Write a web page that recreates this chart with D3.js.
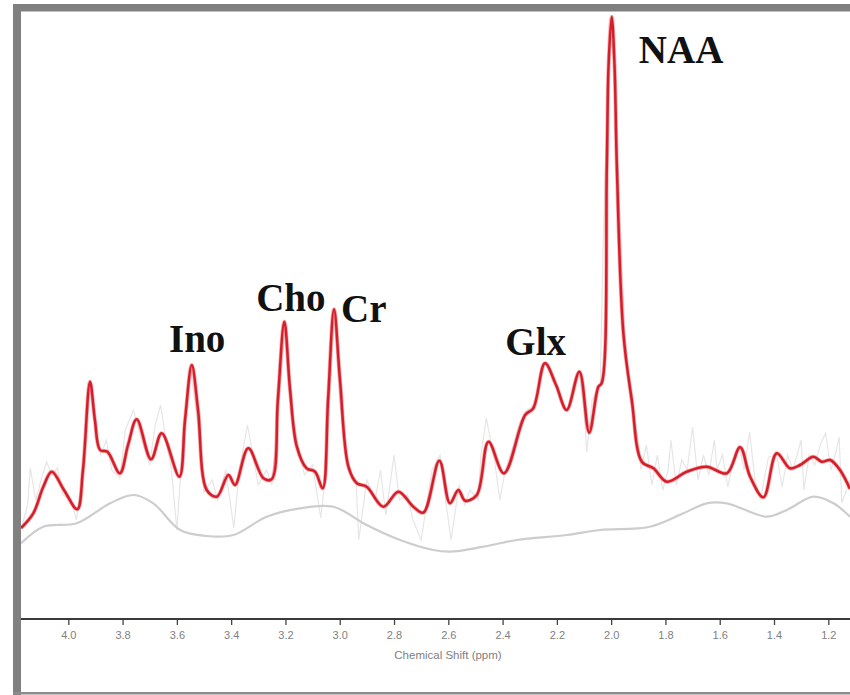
<!DOCTYPE html>
<html>
<head>
<meta charset="utf-8">
<script src="https://cdn.jsdelivr.net/npm/d3@7"></script>
<style>
body { margin: 0; background: #fff; }
svg { display: block; }
</style>
</head>
<body>
<div id="spectre"></div>
<script>
var width = 850,
height = 695,
axeY = 619,
gauche = 21,
droite = 850;

// ticks of the ppm axis
var ticksPpm = [4.0, 3.8, 3.6, 3.4, 3.2, 3.0, 2.8, 2.6, 2.4, 2.2, 2.0, 1.8, 1.6, 1.4, 1.2];

// fitted spectrum (red): ppm / intensity (a.u.)
var fitPpm = [4.174, 4.129, 4.092, 4.061, 4.016, 3.967, 3.946, 3.920, 3.902, 3.883, 3.856, 3.810, 3.780, 3.748, 3.695, 3.656, 3.591, 3.570, 3.545, 3.522, 3.490, 3.453, 3.410, 3.386, 3.337, 3.281, 3.251, 3.228, 3.204, 3.183, 3.158, 3.122, 3.091, 3.063, 3.043, 3.021, 2.999, 2.968, 2.937, 2.901, 2.839, 2.784, 2.729, 2.692, 2.633, 2.594, 2.563, 2.538, 2.495, 2.452, 2.395, 2.317, 2.287, 2.244, 2.203, 2.164, 2.117, 2.081, 2.047, 2.035, 2.016, 2.0096, 1.998, 1.9875, 1.979, 1.955, 1.924, 1.887, 1.844, 1.795, 1.721, 1.648, 1.574, 1.525, 1.488, 1.439, 1.390, 1.341, 1.304, 1.255, 1.224, 1.193, 1.157, 1.120];
var fitVal = [92, 106.7, 133.3, 148.3, 130, 110.7, 150, 238.3, 200, 170, 168.3, 146.7, 175, 200.7, 160.7, 186.7, 143.3, 200, 255, 210, 130, 123.3, 145, 135, 171.7, 141.7, 140.7, 220, 298.3, 230, 173.3, 151.7, 148.3, 131.7, 220, 310.7, 240, 153.3, 136.7, 133.3, 113.3, 128.3, 113.3, 107.3, 159.3, 116.7, 130, 119.3, 125, 178.3, 146.7, 205, 211.7, 256.7, 235, 210, 248.3, 187.3, 233.3, 236.7, 453.3, 554, 603.3, 554, 453.3, 286.7, 220, 158.3, 151.7, 138.3, 148.3, 153.3, 146.7, 172.7, 143.3, 122.7, 166.7, 151.7, 155, 163.3, 158.3, 160, 150, 131];

// baseline (grey)
var basePpm = [4.174, 4.092, 3.969, 3.846, 3.761, 3.687, 3.588, 3.490, 3.392, 3.269, 3.146, 3.024, 2.901, 2.778, 2.655, 2.594, 2.471, 2.348, 2.164, 2.041, 1.857, 1.734, 1.648, 1.574, 1.427, 1.353, 1.255, 1.181, 1.120];
var baseVal = [76.7, 93.3, 96.7, 116.7, 125, 116.7, 90, 84, 85, 103.3, 111.7, 113.3, 95, 80, 70, 68.3, 73.3, 80, 85, 90, 93.3, 106.7, 116.7, 116.7, 103.3, 110, 123.3, 116.7, 103.3];

// raw data (light grey)
var rawPpm = [4.17, 4.15, 4.14, 4.12, 4.10, 4.08, 4.06, 4.04, 4.02, 3.99, 3.97, 3.95, 3.92, 3.90, 3.88, 3.86, 3.84, 3.81, 3.79, 3.76, 3.73, 3.70, 3.68, 3.66, 3.64, 3.62, 3.60, 3.58, 3.55, 3.52, 3.50, 3.47, 3.45, 3.42, 3.39, 3.37, 3.34, 3.32, 3.30, 3.27, 3.25, 3.20, 3.17, 3.15, 3.13, 3.10, 3.07, 3.05, 3.02, 3.00, 2.97, 2.94, 2.93, 2.90, 2.87, 2.85, 2.83, 2.80, 2.78, 2.75, 2.73, 2.70, 2.68, 2.66, 2.63, 2.61, 2.59, 2.56, 2.54, 2.52, 2.49, 2.48, 2.46, 2.43, 2.41, 2.39, 2.36, 2.34, 2.31, 2.28, 2.26, 2.24, 2.21, 2.19, 2.16, 2.14, 2.12, 2.10, 2.09, 2.07, 2.04, 2.03, 2.01, 2.00, 1.99, 1.97, 1.95, 1.93, 1.90, 1.89, 1.87, 1.85, 1.83, 1.81, 1.79, 1.78, 1.76, 1.74, 1.72, 1.70, 1.68, 1.66, 1.64, 1.62, 1.61, 1.59, 1.57, 1.55, 1.53, 1.51, 1.49, 1.47, 1.45, 1.43, 1.42, 1.39, 1.37, 1.35, 1.33, 1.31, 1.30, 1.29, 1.27, 1.25, 1.23, 1.21, 1.19, 1.17, 1.16, 1.15, 1.12];
var rawVal = [94, 115, 152, 120, 140, 158, 145, 152, 125, 120, 100, 140, 235, 190, 165, 180, 150, 142, 190, 210, 180, 155, 195, 215, 180, 150, 90, 170, 252, 190, 128, 140, 120, 150, 92, 150, 195, 165, 135, 150, 135, 295, 200, 170, 145, 155, 102, 150, 308, 220, 150, 140, 80, 140, 120, 150, 105, 165, 120, 125, 100, 80, 115, 150, 165, 120, 80, 135, 115, 130, 120, 165, 202, 160, 120, 150, 175, 195, 210, 215, 240, 258, 242, 220, 208, 235, 250, 210, 168, 220, 235, 370, 554, 602, 554, 420, 290, 220, 180, 150, 175, 135, 165, 130, 150, 180, 135, 160, 150, 193, 140, 165, 145, 180, 150, 165, 133, 160, 175, 150, 188, 140, 120, 150, 163, 165, 133, 165, 150, 170, 180, 130, 165, 155, 175, 187, 150, 170, 183, 117, 140];

// metabolite labels
var noms = ["Ino", "Cho", "Cr", "Glx", "NAA"];
var nomsPpm = [3.629, 3.308, 2.995, 2.390, 1.898];
var nomsVal = [268, 309, 298, 265, 557];

var x = d3.scaleLinear().domain([4.0, 1.2]).range([68.3, 828.3]);
var y = d3.scaleLinear().domain([0, 600]).range([620, 20]);

var svg = d3.select("#spectre").append("svg")
	.attr("width", width)
	.attr("height", height)
	.style("background-color", "#ffffff");

svg.append("defs").append("clipPath").attr("id", "zone")
	.append("rect")
	.attr("x", gauche)
	.attr("y", 0)
	.attr("width", droite - gauche)
	.attr("height", axeY);

// frame
svg.append("rect").attr("x", 13).attr("y", 4).attr("width", 8).attr("height", 691).attr("fill", "#808080");
svg.append("rect").attr("x", 13).attr("y", 4).attr("width", width - 13).attr("height", 7.5).attr("fill", "#808080");
svg.append("rect").attr("x", 13).attr("y", 692).attr("width", width - 13).attr("height", 2.5).attr("fill", "#8c8c8c");

function ligne(ppm, val, courbe) {
	return d3.line()
		.x(function(d, i) { return x(ppm[i]); })
		.y(function(d, i) { return y(val[i]); })
		.curve(courbe)(ppm);
}

var g = svg.append("g").attr("clip-path", "url(#zone)");

g.append("path")
	.attr("d", ligne(rawPpm, rawVal, d3.curveLinear))
	.attr("fill", "none")
	.attr("stroke", "#e6e6e6")
	.attr("stroke-width", 1.2);

g.append("path")
	.attr("d", ligne(basePpm, baseVal, d3.curveCatmullRom))
	.attr("fill", "none")
	.attr("stroke", "#cdcdcd")
	.attr("stroke-width", 2.2);

g.append("path")
	.attr("d", ligne(fitPpm, fitVal, d3.curveCatmullRom))
	.attr("fill", "none")
	.attr("stroke", "#f2545b")
	.attr("stroke-width", 4)
	.attr("stroke-opacity", 0.5);

g.append("path")
	.attr("d", ligne(fitPpm, fitVal, d3.curveCatmullRom))
	.attr("fill", "none")
	.attr("stroke", "#d41f2b")
	.attr("stroke-width", 2.5);

// axis
var axe = svg.append("g")
	.attr("transform", "translate(0," + axeY + ")")
	.call(d3.axisBottom(x).tickValues(ticksPpm).tickFormat(d3.format(".1f")).tickSize(6).tickSizeOuter(0));

axe.select(".domain").remove();
axe.append("line")
	.attr("x1", gauche).attr("x2", droite)
	.attr("y1", 0).attr("y2", 0)
	.attr("stroke", "#3a3a3a")
	.attr("stroke-width", 2);
axe.selectAll(".tick line").attr("stroke", "#444").attr("stroke-width", 1.3);
axe.selectAll(".tick text")
	.attr("fill", "#808080")
	.attr("y", 12)
	.style("font-family", "Liberation Sans, Arial, sans-serif")
	.style("font-size", "11px");

svg.append("text")
	.attr("x", 448)
	.attr("y", 659)
	.attr("text-anchor", "middle")
	.attr("fill", "#808080")
	.style("font-family", "Liberation Sans, Arial, sans-serif")
	.style("font-size", "11.5px")
	.text("Chemical Shift (ppm)");

// labels
svg.selectAll(".nom")
	.data(noms)
	.enter()
	.append("text")
	.attr("class", "nom")
	.attr("x", function(d, i) { return x(nomsPpm[i]); })
	.attr("y", function(d, i) { return y(nomsVal[i]); })
	.attr("fill", "#111")
	.style("font-family", "Liberation Serif, Times New Roman, serif")
	.style("font-weight", "bold")
	.style("font-size", "39px")
	.text(function(d) { return d; });
</script>
</body>
</html>
